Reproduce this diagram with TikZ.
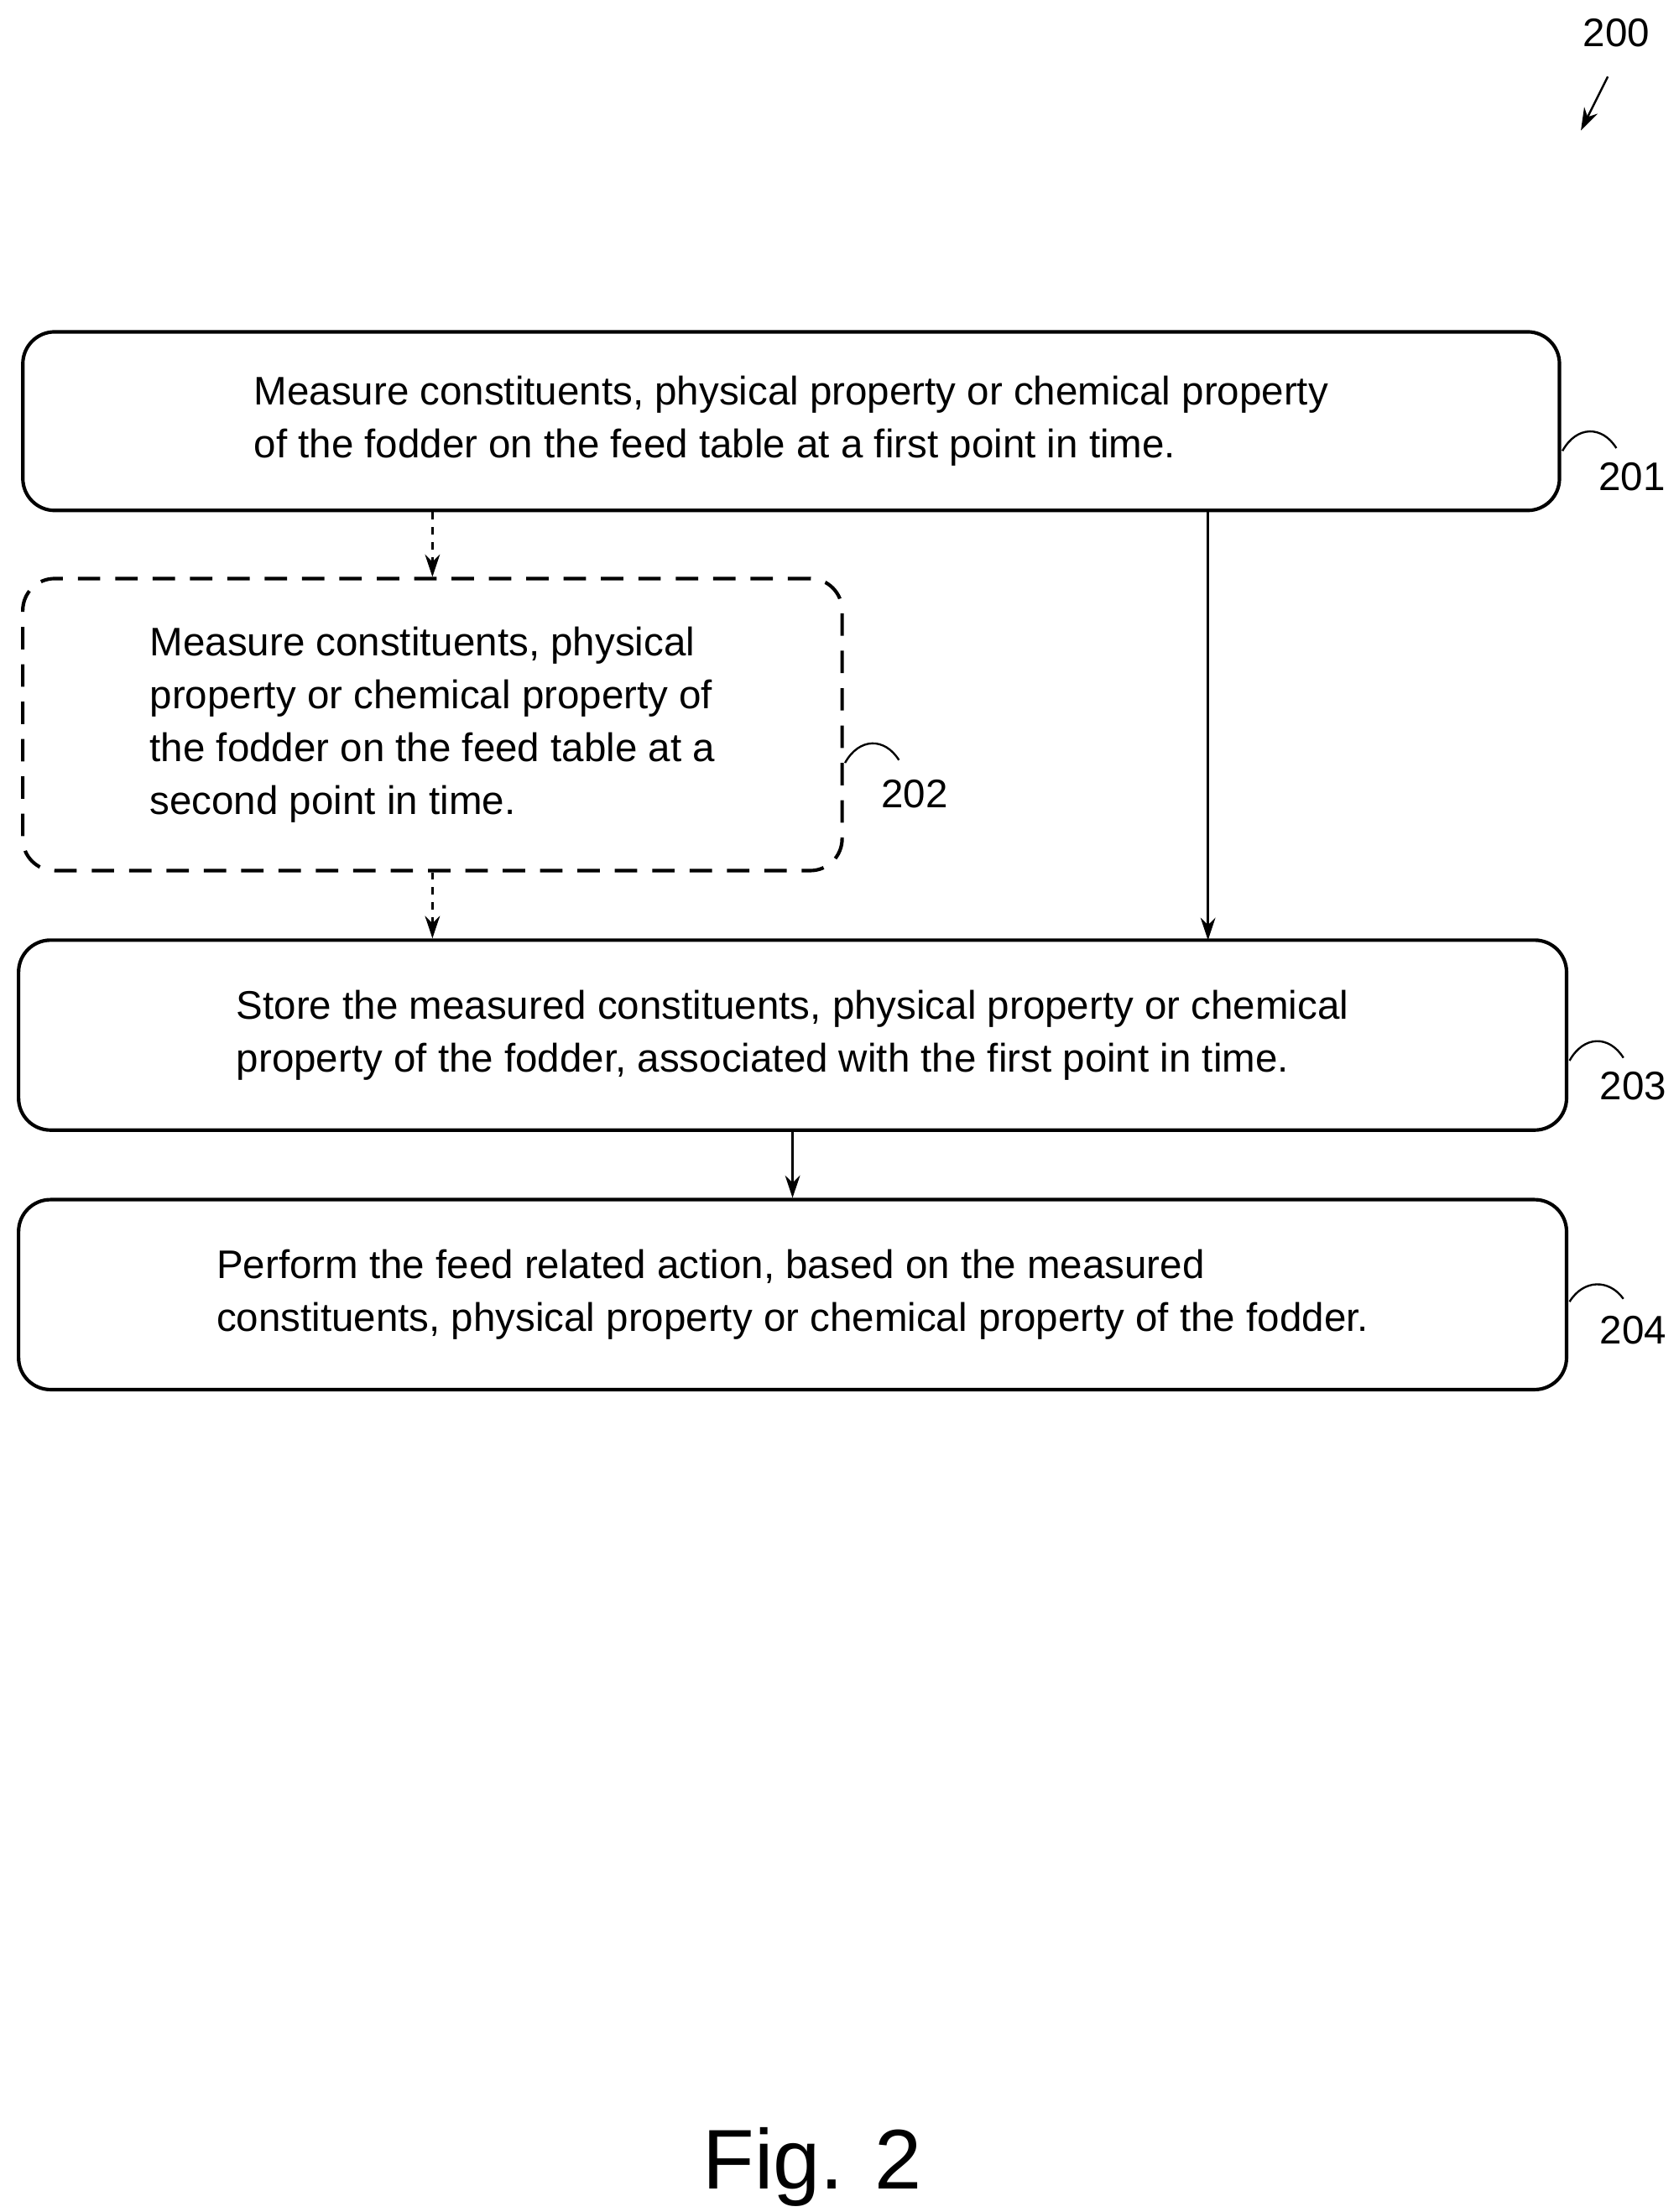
\documentclass[tikz,border=0pt]{standalone}
\usepackage{fontspec}
\setmainfont{Liberation Sans}
\usetikzlibrary{arrows.meta}
\begin{document}
\begin{tikzpicture}[x=0.02cm,y=-0.02cm,
  box/.style={draw,line width=1.4pt,rounded corners=0.45cm,align=left,font=\fontsize{16}{21.2}\selectfont,inner sep=0pt},
  arr/.style={line width=0.8pt,-{Stealth[length=9pt,width=6pt]}},
  lab/.style={font=\fontsize{16}{19}\selectfont,inner sep=0pt},
  sq/.style={line width=0.8pt}]
\useasboundingbox (0,0) rectangle (1184,1560);
\node[box,minimum width=21.68cm,minimum height=2.52cm] (b201) at (558,297) {Measure constituents, physical property or chemical property\\of the fodder on the feed table at a first point in time.};
\node[box,dashed,dash pattern=on 9pt off 6pt,minimum width=11.56cm,minimum height=4.12cm] (b202) at (305,511) {Measure constituents, physical\\property or chemical property of\\the fodder on the feed table at a\\second point in time.};
\node[box,minimum width=21.84cm,minimum height=2.68cm] (b203) at (559,730) {Store the measured constituents, physical property or chemical\\property of the fodder, associated with the first point in time.};
\node[box,minimum width=21.84cm,minimum height=2.68cm] (b204) at (559,913) {Perform the feed related action, based on the measured\\constituents, physical property or chemical property of the fodder.};
\coordinate (s1) at (852,360);
\coordinate (e1) at (852,663);
\draw[arr,dashed] (b202.north |- b201.south) -- (b202.north);
\draw[arr,dashed] (b202.south) -- (b202.south |- b203.north);
\draw[arr] (s1) -- (e1);
\draw[arr] (b203.south) -- (b204.north);
\node[lab] (l201) at (1151,336) {201};
\node[lab] (l202) at (645,560) {202};
\node[lab] (l203) at (1152,766) {203};
\node[lab] (l204) at (1152,938) {204};
\node[lab] (l200) at (1140,23) {200};
\draw[sq] (1102,318) .. controls (1112,300) and (1130,300) .. (1140,316);
\draw[sq] (596,538) .. controls (606,520) and (624,520) .. (634,536);
\draw[sq] (1107,748) .. controls (1117,730) and (1135,730) .. (1145,746);
\draw[sq] (1107,918) .. controls (1117,902) and (1135,902) .. (1145,916);
\coordinate (a0) at (1134,54);
\coordinate (a1) at (1115,92);
\draw[arr] (a0) -- (a1);
\node[font=\fontsize{34}{40}\selectfont,inner sep=0pt] (fig) at (573,1528) {Fig. 2};
\end{tikzpicture}
\end{document}
